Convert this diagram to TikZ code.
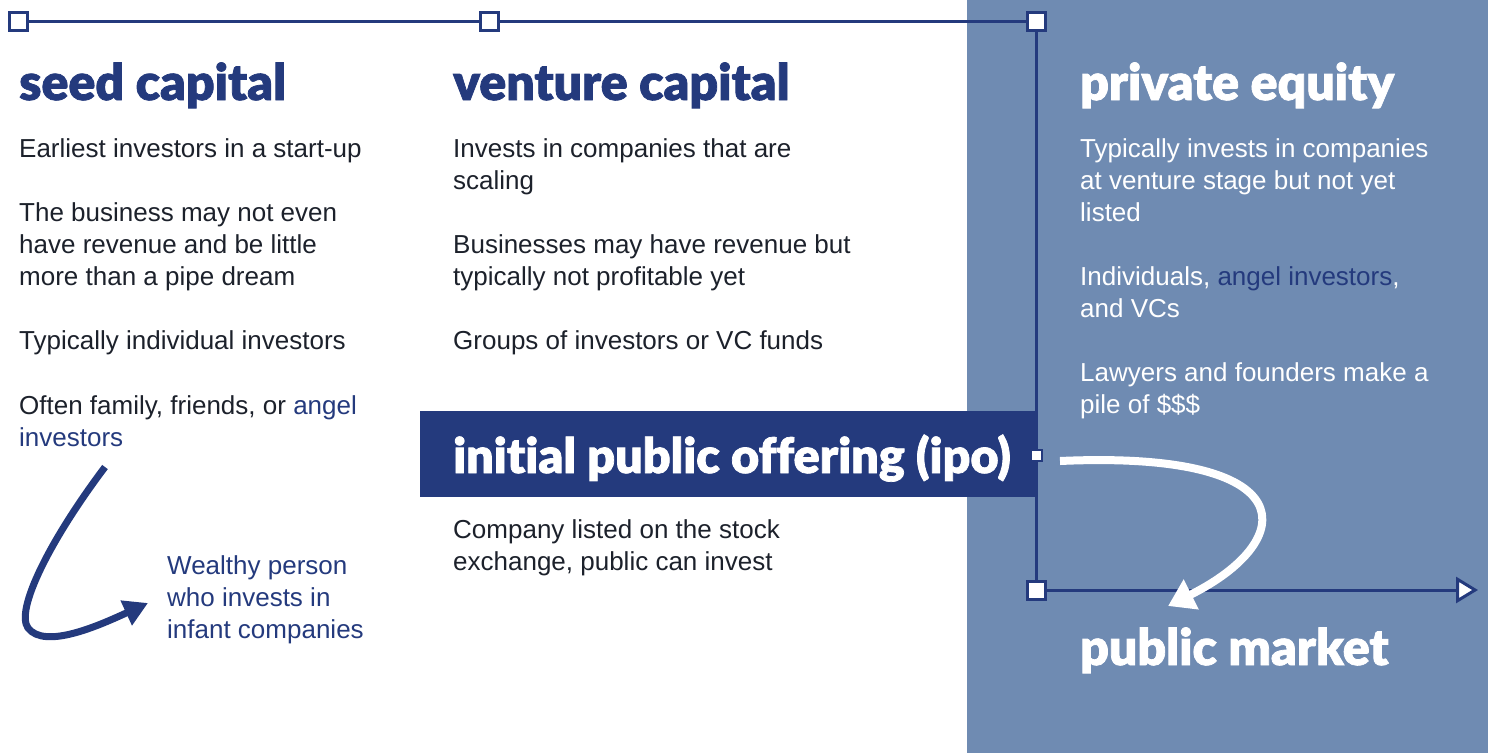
\documentclass[tikz,border=0pt]{standalone}
\usepackage{fontspec}
\setmainfont{Liberation Sans}
\newfontfamily\headfont[FakeBold=1.5, Ligatures=NoCommon]{Lato Black}
\usetikzlibrary{arrows.meta}

\definecolor{navy}{RGB}{36,58,125}
\definecolor{steel}{RGB}{111,139,178}
\definecolor{ink}{RGB}{28,33,43}

\begin{document}
\begin{tikzpicture}[x=1pt, y=-1pt]
  \tikzstyle{head} = [anchor=base west, inner sep=0pt, font=\headfont\fontsize{50}{54}\selectfont]
  \tikzstyle{body} = [anchor=base west, inner sep=0pt, align=left, text=ink, font=\fontsize{26}{32}\selectfont]
  \tikzstyle{knot} = [draw=navy, line width=3pt, fill=white, minimum size=18pt, inner sep=0pt]
  \tikzstyle{rail} = [draw=navy, line width=3pt]

  \useasboundingbox (0,0) rectangle (1488,753);
  \fill[steel] (967,0) rectangle (1488,753);
  \node[fill=navy, anchor=north west, minimum width=616pt, minimum height=86pt, inner sep=0pt] (ipo) at (420,411) {};

  % timeline
  \node[knot] (seed) at (18,21) {};
  \node[knot] (vc) at (489,21) {};
  \node[knot] (pe) at (1036,21) {};
  \node[knot, minimum size=11pt, line width=2pt] (list) at (1036,455) {};
  \node[knot] (pm) at (1036,590) {};
  \coordinate (end) at (1478,590);
  \draw[rail] (seed) -- (vc) -- (pe) -- (list) -- (pm);
  \draw[rail, -{Triangle[length=22pt,width=26pt,fill=white]}] (pm) -- (end);

  % seed capital (multi-line nodes sit on their last baseline)
  \node[head, text=navy] (seedh) at (19,100) {seed capital};
  \node[body] (seed1) at (19,157) {Earliest investors in a start-up};
  \node[body] (seed2) at (19,285) {The business may not even\\have revenue and be little\\more than a pipe dream};
  \node[body] (seed3) at (19,349) {Typically individual investors};
  \node[body] (seed4) at (19,446) {Often family, friends, or \textcolor{navy}{angel}\\\textcolor{navy}{investors}};
  \node[body, text=navy] (angel) at (167,638) {Wealthy person\\who invests in\\infant companies};

  % venture capital
  \node[head, text=navy] (vch) at (453,100) {venture capital};
  \node[body] (vc1) at (453,189) {Invests in companies that are\\scaling};
  \node[body] (vc2) at (453,285) {Businesses may have revenue but\\typically not profitable yet};
  \node[body] (vc3) at (453,349) {Groups of investors or VC funds};

  % ipo
  \node[head, text=white, font=\headfont\fontsize{48.5}{52}\selectfont] (ipoh) at (453,473) {initial public offering (ipo)};
  \node[body] (ipo1) at (453,570) {Company listed on the stock\\exchange, public can invest};

  % private equity
  \node[head, text=white] (peh) at (1080,100) {private equity};
  \node[body, text=white] (pe1) at (1080,221) {Typically invests in companies\\at venture stage but not yet\\listed};
  \node[body, text=white] (pe2) at (1080,317) {Individuals, \textcolor{navy}{angel investors},\\and VCs};
  \node[body, text=white] (pe3) at (1080,413) {Lawyers and founders make a\\pile of \$\$\$};
  \node[head, text=white] (pmh) at (1080,665) {public market};

  % arrows
  \coordinate (cs) at (105,467);
  \coordinate (ce) at (148,603);
  \draw[navy, line width=7pt, -{Triangle[length=24pt,width=26pt]}] (cs) .. controls (50,540) and (15,610) .. (28,628) .. controls (45,650) and (100,625) .. (ce);
  \coordinate (ipoout) at (1060,461);
  \coordinate (pmin) at (1168,606);
  \draw[white, line width=8pt, -{Triangle[length=26pt,width=32pt]}] (ipoout) .. controls (1305,450) and (1300,540) .. (pmin);
\end{tikzpicture}
\end{document}
